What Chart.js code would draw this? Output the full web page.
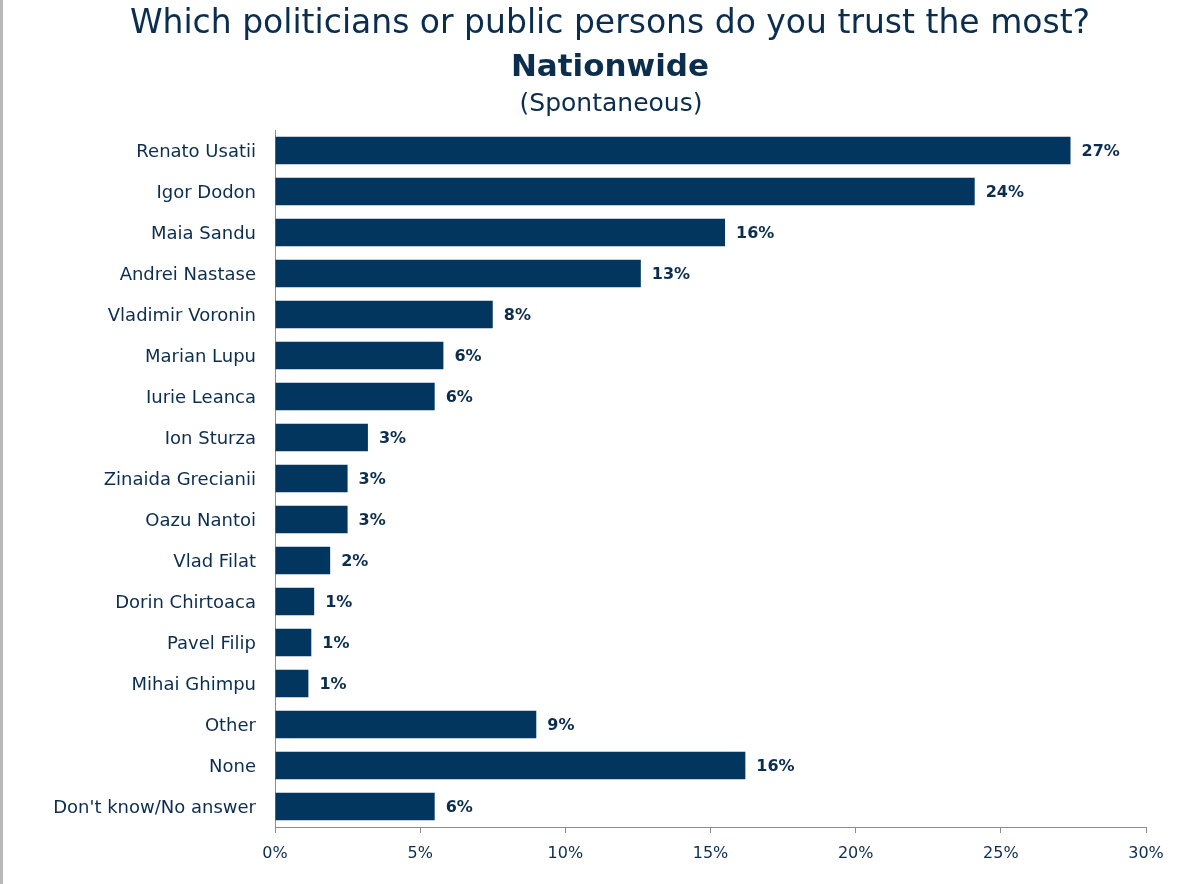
<!DOCTYPE html>
<html>
<head>
<meta charset="utf-8">
<script src="https://cdn.jsdelivr.net/npm/chart.js@4"></script>
<style>
  html, body { margin: 0; padding: 0; background: #fff; overflow: hidden; }
  #wrap { position: relative; width: 1189px; height: 884px; }
  #edge { position: absolute; left: 0; top: 0; width: 3px; height: 884px; background: #b9b9b9; }
</style>
</head>
<body>
<div id="wrap">
  <canvas id="trustChart" width="1189" height="884"></canvas>
  <div id="edge"></div>
</div>
<script>
var titleLines = ['Which politicians or public persons do you trust the most?', 'Nationwide', '(Spontaneous)'];

var names = [
  'Renato Usatii', 'Igor Dodon', 'Maia Sandu', 'Andrei Nastase', 'Vladimir Voronin',
  'Marian Lupu', 'Iurie Leanca', 'Ion Sturza', 'Zinaida Grecianii', 'Oazu Nantoi',
  'Vlad Filat', 'Dorin Chirtoaca', 'Pavel Filip', 'Mihai Ghimpu', 'Other', 'None',
  "Don't know/No answer"
];

var shares = [27.4, 24.1, 15.5, 12.6, 7.5, 5.8, 5.5, 3.2, 2.5, 2.5, 1.9, 1.35, 1.25, 1.15, 9.0, 16.2, 5.5];

var axisTicks = [0, 5, 10, 15, 20, 25, 30];

var navy = '#02365f';
var textColor = '#0b2d4e';
var axisGray = '#8c8c8c';

// headline drawn on the canvas at fixed baselines
var headline = {
  id: 'headline',
  afterDraw: function(chart) {
    var c = chart.ctx;
    c.save();
    c.fillStyle = textColor;
    c.textAlign = 'center';
    c.textBaseline = 'alphabetic';
    c.font = '33px "DejaVu Sans"';
    c.fillText(titleLines[0], 610, 33);
    c.font = 'bold 31px "DejaVu Sans"';
    c.fillText(titleLines[1], 610, 76);
    c.font = '25px "DejaVu Sans"';
    c.fillText(titleLines[2], 611, 111);
    c.restore();
  }
};

// percent labels right of each bar
var barValues = {
  id: 'barValues',
  afterDatasetsDraw: function(chart) {
    var c = chart.ctx;
    var meta = chart.getDatasetMeta(0);
    c.save();
    c.fillStyle = textColor;
    c.font = 'bold 16px "DejaVu Sans"';
    c.textAlign = 'left';
    c.textBaseline = 'middle';
    meta.data.forEach(function(bar, i) {
      c.fillText(Math.round(shares[i]) + '%', bar.x + 11, bar.y + 1);
    });
    c.restore();
  }
};

new Chart(document.getElementById('trustChart'), {
  type: 'bar',
  data: {
    labels: names,
    datasets: [{
      data: shares,
      backgroundColor: navy,
      borderWidth: 0,
      barPercentage: 0.67,
      categoryPercentage: 1
    }]
  },
  options: {
    indexAxis: 'y',
    responsive: false,
    animation: false,
    layout: { padding: { top: 130, right: 43, bottom: 0, left: 0 } },
    plugins: {
      legend: { display: false },
      tooltip: { enabled: false }
    },
    scales: {
      x: {
        min: 0,
        max: 30,
        afterBuildTicks: function(scale) {
          scale.ticks = axisTicks.map(function(v) { return { value: v }; });
        },
        afterFit: function(scale) { scale.height = 57; },
        grid: { drawOnChartArea: false, drawTicks: true, tickLength: 6, color: axisGray },
        border: { display: true, color: axisGray, width: 1 },
        ticks: {
          padding: 11,
          color: textColor,
          font: { family: 'DejaVu Sans', size: 16 },
          maxRotation: 0,
          callback: function(v) { return v + '%'; }
        }
      },
      y: {
        afterFit: function(scale) { scale.width = 275; },
        grid: { display: false, drawTicks: false },
        border: { display: true, color: axisGray, width: 1 },
        ticks: {
          padding: 19,
          labelOffset: 2,
          color: textColor,
          font: { family: 'DejaVu Sans', size: 18 }
        }
      }
    }
  },
  plugins: [headline, barValues]
});
</script>
</body>
</html>
